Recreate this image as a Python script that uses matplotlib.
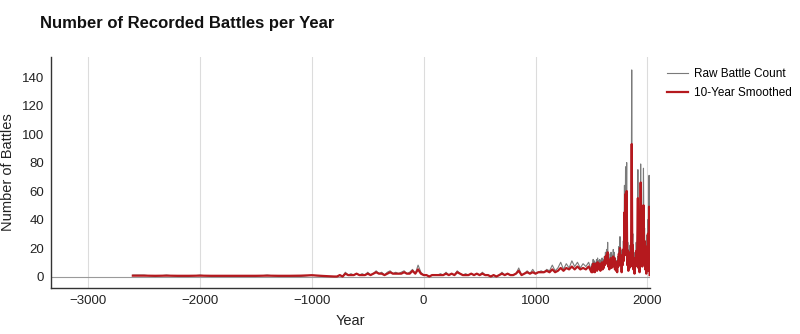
import numpy as np
import matplotlib
matplotlib.use("Agg")
import matplotlib.pyplot as plt

plt.rcParams['font.family'] = ['Liberation Sans', 'DejaVu Sans']

# ---- data ----
years_a = np.arange(-2600, -800, 100)
raw_a = [1, 1, 0, 1, 0, 0, 1, 0, 0, 0, 0, 0, 1, 0, 0, 0, 1, 0]
smooth_a = [0.6, 0.6, 0.5, 0.6, 0.5, 0.5, 0.6, 0.5, 0.5, 0.5, 0.5, 0.5, 0.6, 0.5, 0.5, 0.6, 0.9, 0.4]

years_b = np.arange(-800, 1500, 25)
raw_b = [0, 0, 1, 0, 3, 1, 2, 1, 2, 1,
         2, 1, 3, 1, 2, 4, 2, 3, 1, 3,
         4, 2, 3, 2, 3, 4, 2, 3, 5, 2,
         8, 3, 1, 1, 0, 1, 1, 1, 2, 1,
         3, 1, 2, 1, 4, 2, 1, 2, 1, 2,
         1, 2, 1, 3, 1, 1, 0, 1, 0, 1,
         3, 1, 2, 1, 1, 2, 6, 1, 2, 4,
         2, 5, 2, 3, 4, 3, 5, 4, 8, 4,
         6, 10, 5, 9, 6, 11, 7, 10, 6, 9,
         7, 10]
smooth_b = [0, 0, 1, 0, 2, 1, 1, 1, 2, 1,
            1, 1, 2, 1, 2, 3, 2, 2, 1, 2,
            3, 2, 2, 2, 2, 3, 2, 2, 4, 2,
            5, 2, 1, 1, 0, 1, 1, 1, 1, 1,
            2, 1, 2, 1, 3, 2, 1, 1, 1, 2,
            1, 2, 1, 2, 1, 1, 0, 1, 0, 1,
            2, 1, 2, 1, 1, 2, 4, 1, 2, 3,
            2, 3, 2, 3, 3, 3, 4, 3, 5, 3,
            4, 6, 4, 6, 5, 7, 5, 7, 5, 6,
            5, 7]

years_c = np.arange(1500, 2021, 5)
raw_c = [4, 9, 3, 12, 5, 11, 4, 10, 6, 12,
         5, 13, 7, 11, 6, 12, 5, 11, 8, 13,
         6, 12, 7, 14, 9, 17, 10, 19, 12, 24,
         8, 16, 6, 13, 9, 17, 7, 15, 10, 19,
         8, 17, 6, 13, 5, 11, 4, 14, 8, 21,
         10, 28, 12, 18, 4, 19, 10, 25, 14, 64,
         20, 77, 30, 80, 10, 24, 5, 19, 7, 22,
         9, 34, 145, 22, 30, 6, 17, 3, 13, 9,
         24, 11, 30, 75, 8, 19, 4, 28, 79, 24,
         40, 9, 30, 76, 18, 34, 6, 24, 3, 29,
         9, 40, 5, 71, 2]
smooth_c = [3, 7, 3, 9, 4, 9, 3, 8, 5, 9,
            4, 10, 6, 9, 5, 9, 4, 9, 6, 10,
            5, 9, 6, 11, 8, 14, 9, 15, 10, 17,
            7, 12, 5, 10, 7, 13, 6, 12, 8, 14,
            7, 13, 5, 10, 4, 9, 3, 11, 7, 16,
            8, 20, 10, 14, 3, 15, 8, 19, 11, 45,
            15, 58, 22, 60, 8, 18, 4, 15, 6, 17,
            7, 25, 93, 16, 22, 5, 13, 2, 10, 7,
            18, 9, 22, 55, 6, 14, 3, 21, 66, 18,
            30, 7, 22, 50, 13, 25, 5, 18, 2, 21,
            7, 30, 4, 49, 1]

years = np.concatenate([years_a, years_b, years_c])
raw = np.concatenate([raw_a, raw_b, raw_c])
smooth = np.concatenate([smooth_a, smooth_b, smooth_c])

x_ticks = [-3000, -2000, -1000, 0, 1000, 2000]
y_ticks = [0, 20, 40, 60, 80, 100, 120, 140]

# ---- figure ----
fig = plt.figure(figsize=(8.0, 3.34), dpi=100)
ax = fig.add_axes([0.064, 0.138, 0.749, 0.691])

ax.axhline(0, color='#9a9a9a', lw=0.8, zorder=1)
ax.plot(years, raw, color='#7a7a7a', lw=0.8, label='Raw Battle Count', zorder=2)
ax.plot(years, smooth, color='#b5191e', lw=1.6, label='10-Year Smoothed', zorder=3)

ax.set_xlim(-3330, 2027)
ax.set_ylim(-8, 154)
ax.set_xticks(x_ticks)
ax.set_xticklabels(['\u22123000', '\u22122000', '\u22121000', '0', '1000', '2000'])
ax.set_yticks(y_ticks)
ax.tick_params(length=0, labelsize=9.5, colors='#222222', pad=5)
ax.grid(axis='x', color='#dcdcdc', lw=0.8)
ax.set_axisbelow(True)
for s in ['top', 'right']:
    ax.spines[s].set_visible(False)
for s in ['left', 'bottom']:
    ax.spines[s].set_color('#333333')
    ax.spines[s].set_linewidth(1.0)

ax.set_xlabel('Year', fontsize=10.5, color='#222222', labelpad=5)
ax.set_ylabel('Number of Battles', fontsize=10.5, color='#222222', labelpad=5)

fig.text(0.05, 0.915, 'Number of Recorded Battles per Year', fontsize=12,
         fontweight='bold', color='#111111', va='baseline')

ax.legend(loc='upper left', bbox_to_anchor=(1.01, 1.0), frameon=False,
          fontsize=8.5, handlelength=1.8, handletextpad=0.5, labelspacing=0.6)

fig.savefig('out.png', dpi=100)
